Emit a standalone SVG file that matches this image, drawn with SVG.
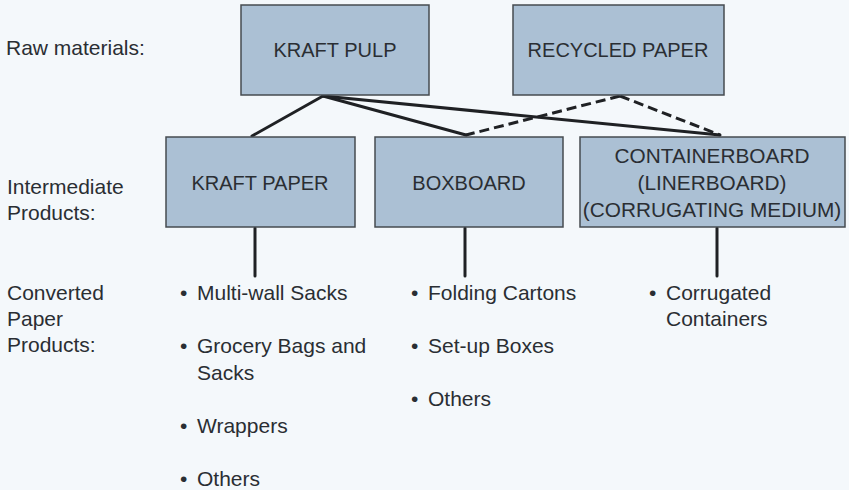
<svg xmlns="http://www.w3.org/2000/svg" width="849" height="490" viewBox="0 0 849 490">
<style>
text{font-family:"Liberation Sans",Arial,sans-serif;fill:#2a2e33}
.lbl{font-size:21px}
.bx{font-size:20px;text-anchor:middle}
.bx2{font-size:20.8px;text-anchor:middle}
.box{fill:#abc0d4;stroke:#454b50;stroke-width:1.5}
.ln{stroke:#1f2124;stroke-width:3;fill:none;stroke-linecap:round}
.dash{stroke:#1f2124;stroke-width:3;fill:none;stroke-dasharray:10 5}
</style>
<rect width="849" height="490" fill="#f4f8fb"/>
<g id="labels">
<text class="lbl" x="6" y="55">Raw materials:</text>
<text class="lbl" x="7" y="194">Intermediate</text>
<text class="lbl" x="7" y="220">Products:</text>
<text class="lbl" x="7" y="300">Converted</text>
<text class="lbl" x="7" y="326">Paper</text>
<text class="lbl" x="7" y="352">Products:</text>
</g>
<g id="connectors">
<line class="ln" x1="323" y1="96" x2="252" y2="136"/>
<line class="ln" x1="323" y1="96" x2="466" y2="135"/>
<line class="ln" x1="323" y1="96" x2="720" y2="135"/>
<line class="dash" x1="620" y1="96" x2="466" y2="135"/>
<line class="dash" x1="620" y1="96" x2="720" y2="135"/>
<line class="ln" x1="255" y1="228" x2="255" y2="276"/>
<line class="ln" x1="465" y1="228" x2="465" y2="276"/>
<line class="ln" x1="717" y1="228" x2="717" y2="276"/>
</g>
<g id="kraft-pulp">
<rect class="box" x="241" y="5" width="188" height="90"/>
<text class="bx" x="335" y="57">KRAFT PULP</text>
</g>
<g id="recycled-paper">
<rect class="box" x="513" y="5" width="211" height="90"/>
<text class="bx" x="618" y="57">RECYCLED PAPER</text>
</g>
<g id="kraft-paper">
<rect class="box" x="166" y="137" width="189" height="90"/>
<text class="bx" x="260" y="190">KRAFT PAPER</text>
</g>
<g id="boxboard">
<rect class="box" x="375" y="137" width="188" height="90"/>
<text class="bx" x="469" y="190">BOXBOARD</text>
</g>
<g id="containerboard">
<rect class="box" x="580" y="137" width="265" height="90"/>
<text class="bx2" x="712" y="163">CONTAINERBOARD</text>
<text class="bx2" x="712" y="190">(LINERBOARD)</text>
<text class="bx2" x="712" y="217">(CORRUGATING MEDIUM)</text>
</g>
<g id="kraft-paper-products">
<text class="lbl" x="180" y="300">•</text><text class="lbl" x="197" y="300">Multi-wall Sacks</text>
<text class="lbl" x="180" y="353">•</text><text class="lbl" x="197" y="353">Grocery Bags and</text>
<text class="lbl" x="197" y="380">Sacks</text>
<text class="lbl" x="180" y="433">•</text><text class="lbl" x="197" y="433">Wrappers</text>
<text class="lbl" x="180" y="486">•</text><text class="lbl" x="197" y="486">Others</text>
</g>
<g id="boxboard-products">
<text class="lbl" x="411" y="300">•</text><text class="lbl" x="428" y="300">Folding Cartons</text>
<text class="lbl" x="411" y="353">•</text><text class="lbl" x="428" y="353">Set-up Boxes</text>
<text class="lbl" x="411" y="406">•</text><text class="lbl" x="428" y="406">Others</text>
</g>
<g id="containerboard-products">
<text class="lbl" x="649" y="300">•</text><text class="lbl" x="666" y="300">Corrugated</text>
<text class="lbl" x="666" y="326">Containers</text>
</g>
</svg>
